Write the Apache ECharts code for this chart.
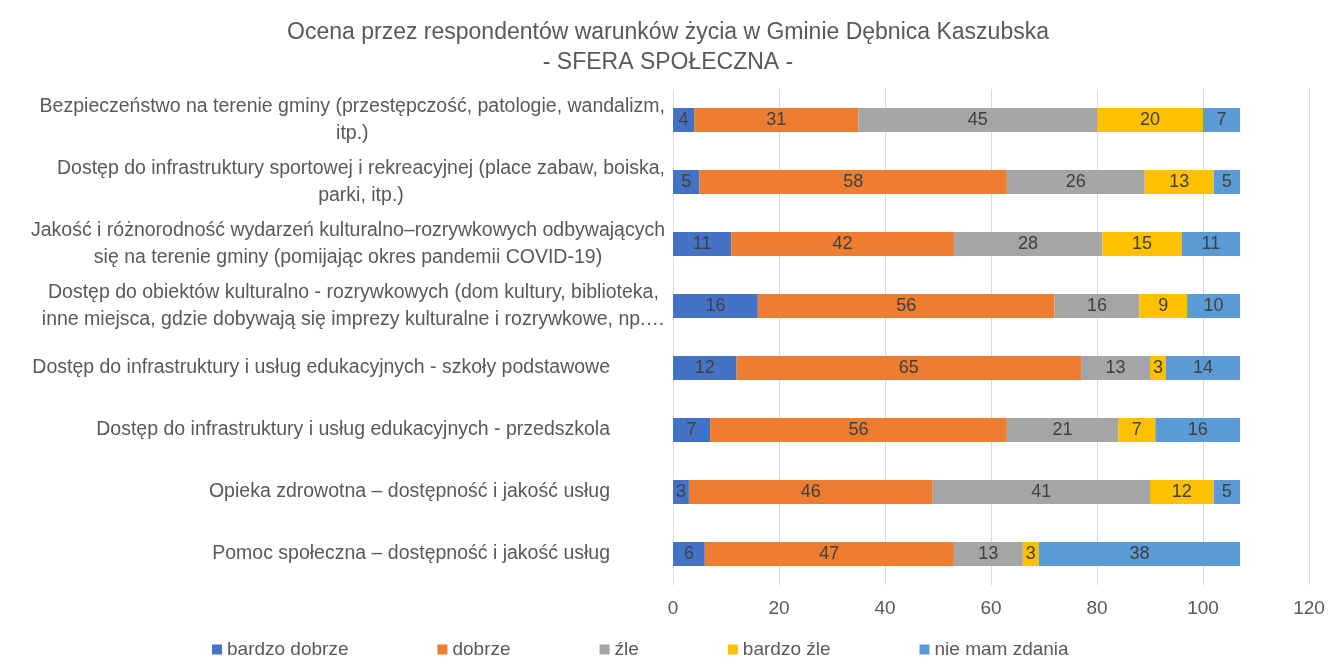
<!DOCTYPE html>
<html>
<head>
<meta charset="utf-8">
<script src="https://cdn.jsdelivr.net/npm/echarts@6/dist/echarts.min.js"></script>
<style>
  html, body { margin: 0; padding: 0; background: #fff; }
  #chart { width: 1336px; height: 658px; }
</style>
</head>
<body>
<div id="chart"></div>
<script>
// categories, top to bottom
const categories = [
  'Bezpieczeństwo na terenie gminy (przestępczość, patologie, wandalizm,\nitp.)',
  'Dostęp do infrastruktury sportowej i rekreacyjnej (place zabaw, boiska,\nparki, itp.)',
  'Jakość i różnorodność wydarzeń kulturalno–rozrywkowych odbywających\nsię na terenie gminy (pomijając okres pandemii COVID-19)',
  'Dostęp do obiektów kulturalno - rozrywkowych (dom kultury, biblioteka,\ninne miejsca, gdzie dobywają się imprezy kulturalne i rozrywkowe, np.…',
  'Dostęp do infrastruktury i usług edukacyjnych - szkoły podstawowe',
  'Dostęp do infrastruktury i usług edukacyjnych - przedszkola',
  'Opieka zdrowotna – dostępność i jakość usług',
  'Pomoc społeczna – dostępność i jakość usług'
];

const bardzoDobrze = [4, 5, 11, 16, 12, 7, 3, 6];
const dobrze = [31, 58, 42, 56, 65, 56, 46, 47];
const zle = [45, 26, 28, 16, 13, 21, 41, 13];
const bardzoZle = [20, 13, 15, 9, 3, 7, 12, 3];
const nieMamZdania = [7, 5, 11, 10, 14, 16, 5, 38];

const seriesNames = ['bardzo dobrze', 'dobrze', 'źle', 'bardzo źle', 'nie mam zdania'];
const seriesData = [bardzoDobrze, dobrze, zle, bardzoZle, nieMamZdania];
const colors = ['#4472C4', '#ED7D31', '#A5A5A5', '#FFC000', '#5B9BD5'];

const font = 'Liberation Sans';

const chart = echarts.init(document.getElementById('chart'));

chart.setOption({
  animation: false,
  color: colors,
  title: {
    text: 'Ocena przez respondentów warunków życia w Gminie Dębnica Kaszubska\n- SFERA SPOŁECZNA -',
    left: 'center',
    top: 13,
    textStyle: {
      fontFamily: font,
      fontSize: 23,
      fontWeight: 'normal',
      color: '#595959',
      lineHeight: 30
    }
  },
  legend: {
    top: 635,
    left: 207,
    itemWidth: 10,
    itemHeight: 10,
    itemGap: 89,
    icon: 'rect',
    textStyle: { fontFamily: font, fontSize: 19, color: '#595959' },
    data: seriesNames
  },
  grid: { left: 673, right: 27, top: 89, bottom: 73 },
  xAxis: {
    type: 'value',
    min: 0,
    max: 120,
    interval: 20,
    axisLine: { show: false },
    axisTick: { show: false },
    axisLabel: { fontFamily: font, fontSize: 19, color: '#595959', margin: 14 },
    splitLine: { lineStyle: { color: '#D9D9D9' } }
  },
  yAxis: {
    type: 'category',
    inverse: true,
    data: categories,
    axisLine: { show: false },
    axisTick: { show: false },
    axisLabel: {
      margin: 8,
      formatter: function (v) {
        if (v.indexOf('\n') >= 0) {
          return v.split('\n').map(function (l) { return '{m|' + l + '}'; }).join('\n');
        }
        return '{s|' + v + '}';
      },
      rich: {
        m: { fontFamily: font, fontSize: 19.5, color: '#595959', align: 'center', lineHeight: 27 },
        s: { fontFamily: font, fontSize: 19.5, color: '#595959', padding: [0, 55, 0, 0] }
      }
    }
  },
  series: seriesNames.map(function (name, i) {
    return {
      name: name,
      type: 'bar',
      stack: 'total',
      barWidth: 24,
      data: seriesData[i],
      label: {
        show: true,
        position: 'inside',
        fontFamily: font,
        fontSize: 18,
        color: '#404040'
      }
    };
  })
});
</script>
</body>
</html>
